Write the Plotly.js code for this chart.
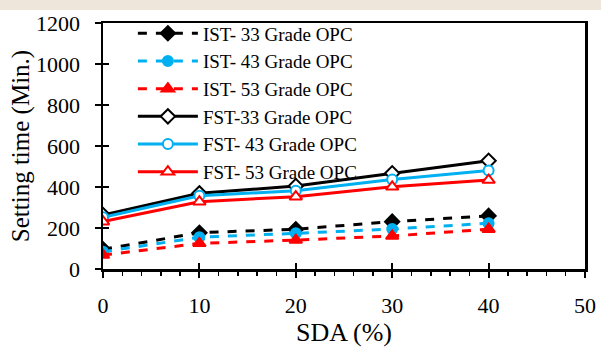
<!DOCTYPE html>
<html>
<head>
<meta charset="utf-8">
<script src="https://cdn.plot.ly/plotly-3.0.1.min.js"></script>
<style>html,body{margin:0;padding:0;background:#fff}#chart{width:601px;height:350px}</style>
</head>
<body>
<div id="chart"></div>
<script>
const sda = [0, 10, 20, 30, 40];
const ist33 = [96, 177, 194, 231, 259];
const ist43 = [84, 155, 174, 195, 223];
const ist53 = [68, 125, 141, 161, 194];
const fst33 = [263, 369, 405, 467, 528];
const fst43 = [252, 357, 382, 437, 480];
const fst53 = [231, 328, 353, 401, 434];
const names = ["IST- 33 Grade OPC", "IST- 43 Grade OPC", "IST- 53 Grade OPC",
               "FST-33 Grade OPC", "FST- 43 Grade OPC", "FST- 53 Grade OPC"];

const BLACK = "#000000", BLUE = "#00B0F0", RED = "#FF0000";
function tr(y, name, color, dash, symbol, filled, size) {
  return {
    x: sda, y: y, name: name, type: "scatter", mode: "lines+markers",
    line: {color: color, width: 3, dash: dash},
    marker: {symbol: symbol, size: size, color: filled ? color : "#ffffff",
             line: {color: color, width: 2}}
  };
}
const data = [
  tr(ist33, names[0], BLACK, "dash", "diamond", true, 11),
  tr(ist43, names[1], BLUE, "dash", "circle", true, 10),
  tr(ist53, names[2], RED, "dash", "triangle-up", true, 11),
  tr(fst33, names[3], BLACK, "solid", "diamond", false, 11),
  tr(fst43, names[4], BLUE, "solid", "circle", false, 10),
  tr(fst53, names[5], RED, "solid", "triangle-up", false, 11),
  {x: [], y: [], xaxis: "x2", yaxis: "y2", showlegend: false, hoverinfo: "skip", type: "scatter"}
];
const FF = "'Liberation Serif', 'Times New Roman', serif";
const layout = {
  width: 601, height: 350,
  margin: {l: 103, r: 16, t: 23, b: 81},
  paper_bgcolor: "#ffffff", plot_bgcolor: "#ffffff",
  font: {family: FF, color: "#000"},
  showlegend: true,
  legend: {x: 0.062, y: 1.035, xanchor: "left", yanchor: "top", bgcolor: "rgba(0,0,0,0)",
           font: {family: FF, size: 19, color: "#000"}, tracegroupgap: 0, itemwidth: 60},
  shapes: [{type: "rect", xref: "paper", yref: "paper", x0: -0.2137, x1: 1.0332, y0: 1.053, y1: 1.0935,
            fillcolor: "#EEE6DA", line: {width: 0}, layer: "below"}],
  xaxis: {
    range: [0, 50], tickvals: [0, 10, 20, 30, 40, 50], showgrid: false, zeroline: false,
    showline: true, linecolor: "#000", linewidth: 2.5, mirror: true,
    ticks: "outside", ticklen: 6, tickwidth: 2, tickcolor: "#000",
    minor: {dtick: 2, ticks: "outside", ticklen: 4, tickwidth: 1.5, tickcolor: "#000"},
    tickfont: {family: FF, size: 22, color: "#000"}, ticklabelstandoff: 9,
    title: {text: "SDA (%)", font: {family: FF, size: 26, color: "#000"}, standoff: 0}
  },
  yaxis: {
    range: [0, 1200], dtick: 200, showgrid: false, zeroline: false,
    showline: true, linecolor: "#000", linewidth: 2.5, mirror: true,
    ticks: "outside", ticklen: 6, tickwidth: 2, tickcolor: "#000",
    tickfont: {family: FF, size: 22, color: "#000"}, ticklabelstandoff: 10,
    title: {text: "Setting time (Min.)", font: {family: FF, size: 25, color: "#000"}, standoff: 0}
  },
  xaxis2: {
    overlaying: "x", range: [0, 50], tickvals: [0, 10, 20, 30, 40, 50], showticklabels: false,
    showgrid: false, zeroline: false, showline: false, ticks: "inside", ticklen: 6,
    tickwidth: 2, tickcolor: "#000", side: "bottom"
  },
  yaxis2: {
    overlaying: "y", range: [0, 1200], dtick: 200, showticklabels: false,
    showgrid: false, zeroline: false, showline: false, ticks: "inside", ticklen: 6,
    tickwidth: 2, tickcolor: "#000", side: "left"
  }
};
Plotly.newPlot("chart", data, layout, {displayModeBar: false, staticPlot: true});
</script>
</body>
</html>
